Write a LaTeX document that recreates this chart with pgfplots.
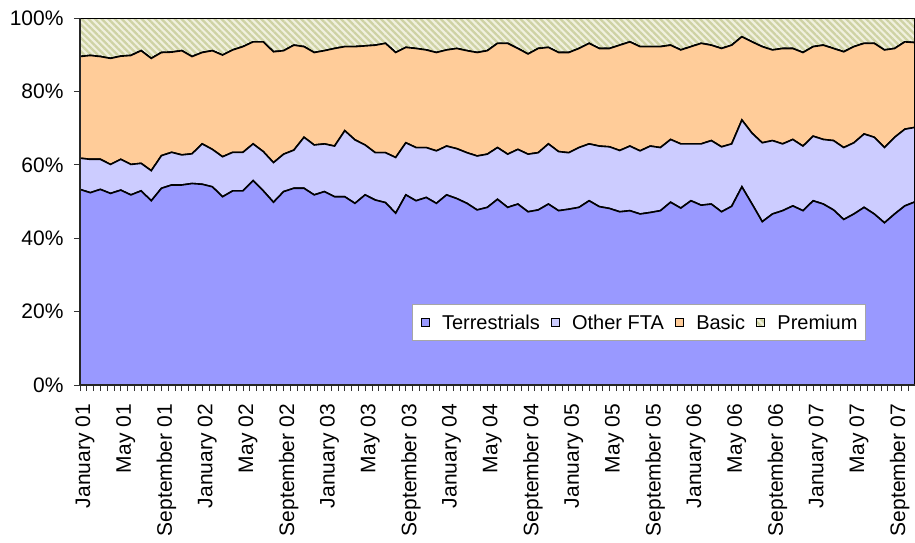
\documentclass[border=0pt]{standalone}
\usepackage{fontspec}
\setmainfont{Liberation Sans}
\usepackage{pgfplots}
\usepackage{pgfplotstable}
\pgfplotsset{compat=1.18}
\usetikzlibrary{patterns.meta}

\definecolor{terr}{RGB}{153,153,255}
\definecolor{fta}{RGB}{204,204,255}
\definecolor{basic}{RGB}{255,204,153}
\definecolor{premfill}{RGB}{240,240,222}
\definecolor{premline}{RGB}{206,210,164}

% monthly shares (%), i = months since January 2001
\pgfplotstableread{
i  T    O    B    P
0  53.3 8.5  27.7 10.5
1  52.4 9.1  28.3 10.2
2  53.3 8.2  28.0 10.5
3  52.2 7.9  28.9 11.0
4  53.1 8.4  28.1 10.4
5  51.8 8.3  29.7 10.2
6  52.9 7.5  30.7 8.9
7  50.2 8.2  30.6 11.0
8  53.6 8.9  28.1 9.4
9  54.5 8.9  27.3 9.3
10 54.5 8.2  28.4 8.9
11 54.9 8.1  26.5 10.5
12 54.7 11.0 24.9 9.4
13 54.0 10.2 26.9 8.9
14 51.3 10.9 27.7 10.1
15 52.9 10.5 27.9 8.7
16 52.9 10.5 28.8 7.8
17 55.7 10.0 27.8 6.5
18 52.9 10.7 29.9 6.5
19 49.8 10.8 30.2 9.2
20 52.7 10.2 28.2 8.9
21 53.6 10.4 28.6 7.4
22 53.6 13.9 24.7 7.8
23 51.8 13.6 25.2 9.4
24 52.7 13.0 25.4 8.9
25 51.3 13.8 26.6 8.3
26 51.3 18.0 22.9 7.8
27 49.5 17.3 25.4 7.8
28 51.8 13.6 27.0 7.6
29 50.4 12.9 29.3 7.4
30 49.7 13.6 29.8 6.9
31 46.8 15.2 28.6 9.4
32 51.8 14.2 26.0 8.0
33 50.2 14.5 27.0 8.3
34 51.1 13.6 26.6 8.7
35 49.5 14.3 26.8 9.4
36 51.8 13.3 26.2 8.7
37 50.8 13.6 27.3 8.3
38 49.5 13.8 27.8 8.9
39 47.7 14.7 28.2 9.4
40 48.4 14.5 28.2 8.9
41 50.6 14.1 28.4 6.9
42 48.4 14.5 30.2 6.9
43 49.3 14.9 27.5 8.3
44 47.2 15.7 27.3 9.8
45 47.7 15.6 28.4 8.3
46 49.3 16.4 26.3 8.0
47 47.5 16.1 27.0 9.4
48 47.9 15.4 27.3 9.4
49 48.4 16.3 27.0 8.3
50 50.2 15.5 27.4 6.9
51 48.6 16.5 26.6 8.3
52 48.1 16.8 26.8 8.3
53 47.2 16.7 28.7 7.4
54 47.5 17.6 28.4 6.5
55 46.6 17.2 28.4 7.8
56 47.0 18.1 27.1 7.8
57 47.5 17.2 27.5 7.8
58 49.8 17.1 25.7 7.4
59 48.2 17.5 25.6 8.7
60 50.2 15.5 26.5 7.8
61 49.0 16.7 27.4 6.9
62 49.3 17.3 26.0 7.4
63 47.2 17.7 26.8 8.3
64 48.7 17.0 26.9 7.4
65 54.0 18.2 22.7 5.1
66 49.3 19.3 24.9 6.5
67 44.5 21.5 26.2 7.8
68 46.6 20.0 24.7 8.7
69 47.5 18.2 26.0 8.3
70 48.8 18.1 24.8 8.3
71 47.5 17.6 25.5 9.4
72 50.2 17.6 24.4 7.8
73 49.3 17.6 25.7 7.4
74 47.7 18.9 25.1 8.3
75 45.1 19.6 26.1 9.2
76 46.6 19.4 26.2 7.8
77 48.4 20.0 24.7 6.9
78 46.6 20.9 25.6 6.9
79 44.2 20.5 26.6 8.7
80 46.6 20.9 24.2 8.3
81 48.8 20.9 23.8 6.5
82 49.9 20.3 23.1 6.7
}\shares

\begin{document}
\begin{tikzpicture}
\useasboundingbox (-80pt,-157pt) rectangle (835pt,385pt);
\begin{axis}[
    at={(0pt,0pt)}, anchor=south west,
    scale only axis,
    width=835pt, height=367pt,
    xmin=0, xmax=82, ymin=0, ymax=100,
    stack plots=y,
    axis on top,
    axis x line*=bottom, axis y line*=left,
    axis line style={black!85, line width=1.3pt},
    tick align=outside,
    major tick length=6pt, minor tick length=6pt,
    every tick/.style={black!80, line width=0.8pt},
    xtick={0,4,...,80},
    minor xtick={0,0.666667,...,82.01},
    xticklabels={January 01, May 01, September 01, January 02, May 02, September 02,
        January 03, May 03, September 03, January 04, May 04, September 04,
        January 05, May 05, September 05, January 06, May 06, September 06,
        January 07, May 07, September 07},
    xticklabel style={rotate=90, anchor=east, inner xsep=13pt, yshift=-5pt},
    ytick={0,20,...,100},
    yticklabels={0\%,20\%,40\%,60\%,80\%,100\%},
    yticklabel style={xshift=-7pt},
    tick label style={font=\fontsize{21}{25}\selectfont},
    legend columns=-1,
    legend style={at={(rel axis cs:0.398,0.12)}, anchor=south west,
        draw=black!35, fill=white, line width=0.8pt,
        font=\fontsize{20}{24}\selectfont,
        inner xsep=8pt, inner ysep=8pt,
        nodes={inner xsep=0pt, inner ysep=2pt},
        /tikz/every odd column/.append style={column sep=12pt},
        /tikz/every even column/.append style={column sep=11pt}},
    legend image code/.code={\draw[#1, draw=black, line width=1.3pt] (0pt,-4pt) rectangle (8pt,4pt);},
]
\addplot[draw=black, line width=1.6pt, fill=terr] table[x=i, y=T] {\shares} \closedcycle;
\addlegendentry{Terrestrials}
\addplot[draw=black, line width=1.6pt, fill=fta] table[x=i, y=O] {\shares} \closedcycle;
\addlegendentry{Other FTA}
\addplot[draw=black, line width=1.6pt, fill=basic] table[x=i, y=B] {\shares} \closedcycle;
\addlegendentry{Basic}
\addplot[draw=black, line width=1.6pt, fill=premfill,
    postaction={pattern={Lines[angle=-45, distance=4.7pt, line width=2.3pt]}, pattern color=premline}]
    table[x=i, y=P] {\shares} \closedcycle;
\addlegendentry{Premium}
\end{axis}
\end{tikzpicture}
\end{document}
